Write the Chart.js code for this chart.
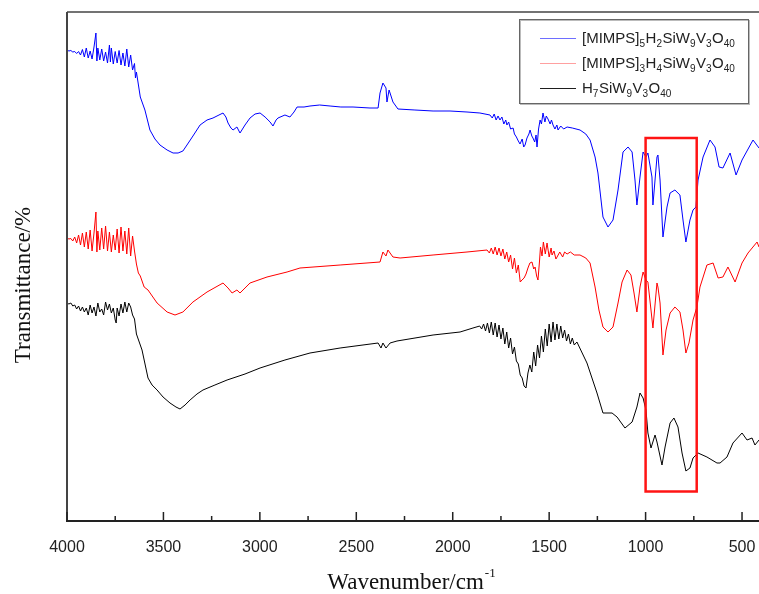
<!DOCTYPE html>
<html>
<head>
<meta charset="utf-8">
<script src="https://cdn.jsdelivr.net/npm/chart.js@4"></script>
<style>
  body { margin: 0; background: #fff; }
</style>
</head>
<body>
<canvas id="c" width="759" height="594"></canvas>
<script>
// wavenumber (cm-1) and transmittance (arbitrary offset %)
const blueWn = [4000,3990,3980,3970,3960,3950,3940,3930,3920,3910,3900,3890,3880,3870,3860,3850,3845,3840,3830,3820,3810,3800,3790,3780,3775,3770,3760,3750,3740,3730,3720,3710,3700,3690,3680,3670,3660,3650,3645,3640,3620,3596,3570,3544,3518,3481,3450,3424,3399,3378,3347,3310,3274,3243,3212,3191,3176,3165,3150,3139,3119,3103,3077,3051,3025,2999,2973,2947,2932,2916,2906,2870,2844,2823,2807,2771,2740,2690,2636,2580,2517,2429,2387,2377,2362,2346,2341,2330,2310,2284,2196,2102,2014,1926,1859,1807,1795,1785,1775,1765,1755,1745,1735,1725,1719,1710,1700,1687,1680,1670,1660,1651,1640,1632,1625,1615,1605,1599,1590,1584,1575,1568,1563,1555,1547,1540,1532,1522,1515,1506,1495,1488,1480,1470,1460,1454,1440,1425,1407,1380,1340,1310,1288,1262,1247,1221,1195,1169,1143,1117,1091,1070,1055,1045,1029,1013,998,988,967,962,941,936,925,910,889,873,848,822,806,791,770,754,739,728,702,666,640,619,599,562,531,500,443,412];
const blueT = [94.2,94.0,94.1,93.8,93.9,93.5,93.9,93.2,94.3,92.8,94.6,92.6,94.0,92.4,94.8,97.6,92.0,94.6,92.2,94.4,92.0,93.8,91.6,95.2,91.8,94.6,91.4,93.9,91.6,94.1,91.2,93.6,91.0,94.4,90.8,93.2,90.2,91.5,88.6,89.8,84.8,82.2,78.2,76.4,75.2,74.2,73.6,73.6,74.0,75.2,77.0,79.2,80.2,80.6,81.2,81.6,80.8,79.6,78.6,78.2,78.8,77.6,79.2,80.6,81.4,81.6,80.8,79.8,79.0,80.2,80.6,81.2,80.8,81.8,82.8,82.8,83.0,83.2,83.0,82.8,82.8,82.6,82.6,85.6,87.6,86.6,83.8,86.2,83.8,82.4,82.2,82.0,82.0,81.8,81.6,81.2,80.6,81.4,80.2,81.0,80.2,80.8,79.4,80.2,79.2,79.8,78.4,78.6,77.4,76.8,76.0,75.4,76.4,74.8,75.2,76.6,77.4,78.2,77.0,76.6,75.8,77.2,74.8,78.4,80.2,79.4,81.6,79.8,81.0,80.4,79.4,80.2,79.2,78.4,79.2,78.2,79.0,78.4,78.8,78.6,78.2,77.4,76.2,72.8,69.6,60.8,58.8,60.2,66.2,73.8,74.8,73.8,68.2,63.2,68.8,73.8,72.8,73.6,68.8,63.2,72.8,73.2,68.2,56.8,62.8,65.6,66.2,65.2,60.2,55.8,60.2,62.2,62.8,68.2,72.8,76.2,74.8,70.8,70.6,73.6,69.2,72.2,76.2,74.6];

const redWn = [4000,3990,3980,3970,3960,3950,3940,3930,3920,3910,3900,3890,3880,3870,3860,3850,3845,3840,3830,3820,3810,3800,3790,3780,3770,3760,3750,3740,3730,3720,3710,3700,3690,3680,3670,3660,3650,3640,3630,3620,3600,3580,3533,3481,3440,3399,3347,3274,3191,3165,3144,3119,3103,3051,2963,2859,2792,2584,2377,2362,2346,2336,2310,2273,2102,1926,1822,1810,1800,1790,1780,1770,1760,1750,1740,1730,1720,1710,1700,1690,1680,1670,1660,1650,1641,1630,1620,1610,1600,1589,1580,1573,1565,1558,1550,1545,1537,1530,1520,1511,1500,1490,1485,1475,1465,1459,1445,1430,1420,1407,1390,1370,1340,1310,1288,1262,1242,1221,1195,1169,1143,1122,1096,1076,1060,1045,1029,1013,998,988,972,962,941,936,925,910,894,873,848,822,806,791,775,754,734,718,682,650,624,599,573,536,500,469,422,412];
const redT = [56.6,56.4,56.5,56.0,56.8,55.6,57.2,55.2,57.6,54.8,57.8,54.4,58.2,54.0,57.6,61.8,53.8,58.0,54.2,58.6,54.4,59.0,54.0,57.8,53.8,57.2,54.2,58.4,53.6,58.8,54.0,58.0,53.4,58.6,53.0,57.0,54.0,51.4,49.6,49.0,46.8,46.2,43.6,41.8,41.2,41.8,43.8,45.8,47.6,46.6,45.6,46.2,45.6,47.6,48.8,49.8,50.6,51.2,51.8,53.8,53.0,54.2,52.8,52.6,53.2,53.8,54.2,53.6,54.6,53.4,54.8,53.2,54.6,53.0,54.4,52.4,53.8,51.8,53.2,50.4,52.6,49.6,51.2,47.8,48.2,48.6,49.4,50.6,51.6,51.8,50.4,50.8,49.0,48.2,52.0,54.8,53.0,55.8,53.4,55.6,52.8,54.6,53.2,54.0,52.4,52.8,53.8,52.8,53.8,53.4,53.8,53.2,53.2,52.6,51.6,46.8,42.2,38.8,37.8,38.8,43.6,47.8,50.2,49.2,45.6,41.8,46.8,49.8,48.2,47.8,42.2,38.6,47.6,46.8,43.6,33.2,38.2,41.6,42.8,41.8,38.2,33.6,35.6,40.2,42.8,46.8,51.2,51.6,48.6,48.8,50.8,47.8,51.6,53.6,55.8,54.8];

const blackWn = [4000,3990,3980,3970,3960,3950,3940,3930,3920,3910,3900,3890,3880,3870,3860,3850,3840,3830,3820,3810,3800,3790,3780,3770,3760,3750,3745,3740,3730,3720,3710,3700,3690,3680,3670,3660,3650,3640,3611,3580,3559,3533,3502,3466,3435,3414,3388,3362,3326,3295,3233,3170,3077,2999,2870,2740,2584,2387,2372,2362,2346,2325,2289,2102,1962,1895,1860,1850,1840,1830,1820,1810,1800,1790,1780,1770,1760,1750,1740,1730,1720,1710,1700,1690,1680,1670,1660,1650,1640,1630,1620,1610,1600,1590,1580,1570,1560,1550,1540,1530,1520,1510,1500,1490,1480,1470,1460,1450,1440,1430,1420,1410,1400,1390,1380,1370,1356,1304,1252,1221,1174,1148,1107,1070,1045,1029,1013,998,988,972,951,941,915,899,873,853,832,811,791,770,754,728,682,630,614,578,547,500,474,448,433,412];
const blackT = [43.6,43.4,43.6,43.0,43.2,42.4,43.0,42.0,42.8,41.8,42.6,41.2,43.2,41.6,42.8,41.0,43.6,41.8,42.4,41.2,43.8,42.2,43.4,41.6,42.6,40.2,39.6,42.6,41.0,43.4,41.6,43.8,41.8,43.6,42.8,41.2,40.4,37.4,34.2,28.6,27.2,26.2,24.8,23.6,22.8,22.4,23.2,24.2,25.4,26.2,27.2,28.2,29.4,30.6,32.2,33.6,34.6,35.6,34.6,35.6,34.6,35.6,36.0,37.2,37.8,38.6,39.0,38.4,39.4,38.0,39.6,37.6,39.8,37.2,39.6,36.8,39.2,36.4,38.6,35.4,37.8,34.6,36.6,33.4,34.8,32.0,31.4,29.2,28.6,27.0,26.6,29.6,31.2,29.8,33.8,31.0,35.2,32.6,37.0,33.8,38.4,35.0,39.4,35.8,39.8,36.2,39.4,36.4,39.0,36.6,38.2,36.0,37.4,35.4,36.6,35.2,35.8,31.6,25.6,21.6,21.6,20.8,18.6,19.8,22.8,25.6,24.6,22.2,17.6,14.6,17.2,15.8,11.2,14.8,19.6,20.6,18.8,13.6,10.0,10.6,12.6,13.6,12.8,11.6,11.6,12.8,15.6,17.6,16.2,16.6,15.2,16.2];

const xTicks = [4000, 3500, 3000, 2500, 2000, 1500, 1000, 500];
const xMinorTicks = [3750, 3250, 2750, 2250, 1750, 1250, 750];
const boxWn = [1000, 735];
const boxT = [76.6, 5.9];

const legendItems = [
  { color: 'rgb(110,110,255)', parts: [['[MIMPS]', 0], ['5', 1], ['H', 0], ['2', 1], ['SiW', 0], ['9', 1], ['V', 0], ['3', 1], ['O', 0], ['40', 1]] },
  { color: 'rgb(255,160,160)', parts: [['[MIMPS]', 0], ['3', 1], ['H', 0], ['4', 1], ['SiW', 0], ['9', 1], ['V', 0], ['3', 1], ['O', 0], ['40', 1]] },
  { color: 'rgb(30,30,30)', parts: [['H', 0], ['7', 1], ['SiW', 0], ['9', 1], ['V', 0], ['3', 1], ['O', 0], ['40', 1]] },
];

const pts = (xs, ys) => xs.map((x, i) => ({ x: x, y: ys[i] }));

const decor = {
  id: 'decor',
  beforeDraw(chart) {
    const ctx = chart.ctx;
    ctx.save();
    ctx.fillStyle = '#fff';
    ctx.fillRect(0, 0, chart.width, chart.height);
    ctx.restore();
  },
  afterDraw(chart) {
    const ctx = chart.ctx;
    const a = chart.chartArea;
    const xs = chart.scales.x, ys = chart.scales.y;
    ctx.save();

    // frame
    ctx.strokeStyle = '#444';
    ctx.lineWidth = 1.5;
    ctx.beginPath();
    ctx.moveTo(a.left, a.top);
    ctx.lineTo(a.right, a.top);
    ctx.stroke();
    ctx.lineWidth = 2;
    ctx.beginPath();
    ctx.moveTo(a.left, a.top);
    ctx.lineTo(a.left, a.bottom);
    ctx.stroke();
    ctx.strokeStyle = '#222';
    ctx.beginPath();
    ctx.moveTo(a.left - 1, a.bottom);
    ctx.lineTo(a.right, a.bottom);
    ctx.stroke();

    // inward ticks
    ctx.lineWidth = 1.5;
    ctx.beginPath();
    xTicks.forEach(v => {
      const p = xs.getPixelForValue(v);
      ctx.moveTo(p, a.bottom);
      ctx.lineTo(p, a.bottom - 9);
    });
    xMinorTicks.forEach(v => {
      const p = xs.getPixelForValue(v);
      ctx.moveTo(p, a.bottom);
      ctx.lineTo(p, a.bottom - 5);
    });
    ctx.stroke();

    // highlight box
    const bx1 = xs.getPixelForValue(boxWn[0]), bx2 = xs.getPixelForValue(boxWn[1]);
    const by1 = ys.getPixelForValue(boxT[0]), by2 = ys.getPixelForValue(boxT[1]);
    ctx.strokeStyle = 'rgb(255,20,20)';
    ctx.lineWidth = 2.5;
    ctx.strokeRect(bx1, by1, bx2 - bx1, by2 - by1);

    // legend
    ctx.fillStyle = '#fff';
    ctx.fillRect(519, 19, 229, 84);
    ctx.strokeStyle = '#bbb';
    ctx.lineWidth = 1;
    ctx.strokeRect(520.5, 20.5, 229, 84);
    ctx.strokeStyle = '#666';
    ctx.strokeRect(519.5, 19.5, 229, 84);
    legendItems.forEach((it, i) => {
      const y = 38 + i * 25;
      ctx.strokeStyle = it.color;
      ctx.lineWidth = 1;
      ctx.beginPath();
      ctx.moveTo(540, y + 0.5);
      ctx.lineTo(576, y + 0.5);
      ctx.stroke();
      let x = 582;
      ctx.fillStyle = '#222';
      ctx.textBaseline = 'alphabetic';
      ctx.textAlign = 'left';
      it.parts.forEach(([t, sub]) => {
        ctx.font = sub ? '10px "Liberation Sans", Arial, sans-serif' : '15px "Liberation Sans", Arial, sans-serif';
        ctx.fillText(t, x, sub ? y + 9 : y + 5);
        x += ctx.measureText(t).width + (sub ? 0.5 : 0);
      });
    });

    // axis titles
    ctx.fillStyle = '#111';
    ctx.font = '23px "Liberation Serif", "Times New Roman", serif';
    const main = 'Wavenumber/cm';
    const w1 = ctx.measureText(main).width;
    ctx.font = '13px "Liberation Serif", "Times New Roman", serif';
    const w2 = ctx.measureText('-1').width;
    let tx = 411 - (w1 + w2) / 2;
    ctx.font = '23px "Liberation Serif", "Times New Roman", serif';
    ctx.textAlign = 'left';
    ctx.textBaseline = 'alphabetic';
    ctx.fillText(main, tx, 589);
    ctx.font = '13px "Liberation Serif", "Times New Roman", serif';
    ctx.fillText('-1', tx + w1 + 1, 577);

    ctx.translate(24, 285);
    ctx.rotate(-Math.PI / 2);
    ctx.font = '23px "Liberation Serif", "Times New Roman", serif';
    ctx.textAlign = 'center';
    ctx.textBaseline = 'middle';
    ctx.fillText('Transmittance/%', 0, 0);
    ctx.restore();
  }
};

new Chart(document.getElementById('c'), {
  type: 'line',
  data: {
    datasets: [
      { label: '[MIMPS]5H2SiW9V3O40', data: pts(blueWn, blueT), borderColor: 'rgb(0,0,255)' },
      { label: '[MIMPS]3H4SiW9V3O40', data: pts(redWn, redT), borderColor: 'rgb(255,0,0)' },
      { label: 'H7SiW9V3O40', data: pts(blackWn, blackT), borderColor: 'rgb(0,0,0)' },
    ],
  },
  options: {
    responsive: false,
    animation: false,
    events: [],
    datasets: { line: { borderWidth: 1, pointRadius: 0, tension: 0 } },
    layout: { padding: { top: 12, right: 0, left: 0, bottom: 0 } },
    plugins: { legend: { display: false }, tooltip: { enabled: false } },
    scales: {
      x: {
        type: 'linear',
        reverse: true,
        min: 412,
        max: 4000,
        grid: { display: false, drawTicks: false },
        border: { display: false },
        afterBuildTicks: s => { s.ticks = xTicks.map(v => ({ value: v })); },
        afterFit: s => { s.height = 73; s.paddingLeft = 0; s.paddingRight = 0; },
        ticks: {
          padding: 17,
          maxRotation: 0,
          autoSkip: false,
          color: '#222',
          font: { family: '"Liberation Sans", Arial, sans-serif', size: 16 },
          callback: v => String(v),
        },
      },
      y: {
        min: 0,
        max: 101.8,
        grid: { display: false, drawTicks: false },
        border: { display: false },
        ticks: { display: false },
        afterFit: s => { s.width = 67; },
      },
    },
  },
  plugins: [decor],
});
</script>
</body>
</html>
